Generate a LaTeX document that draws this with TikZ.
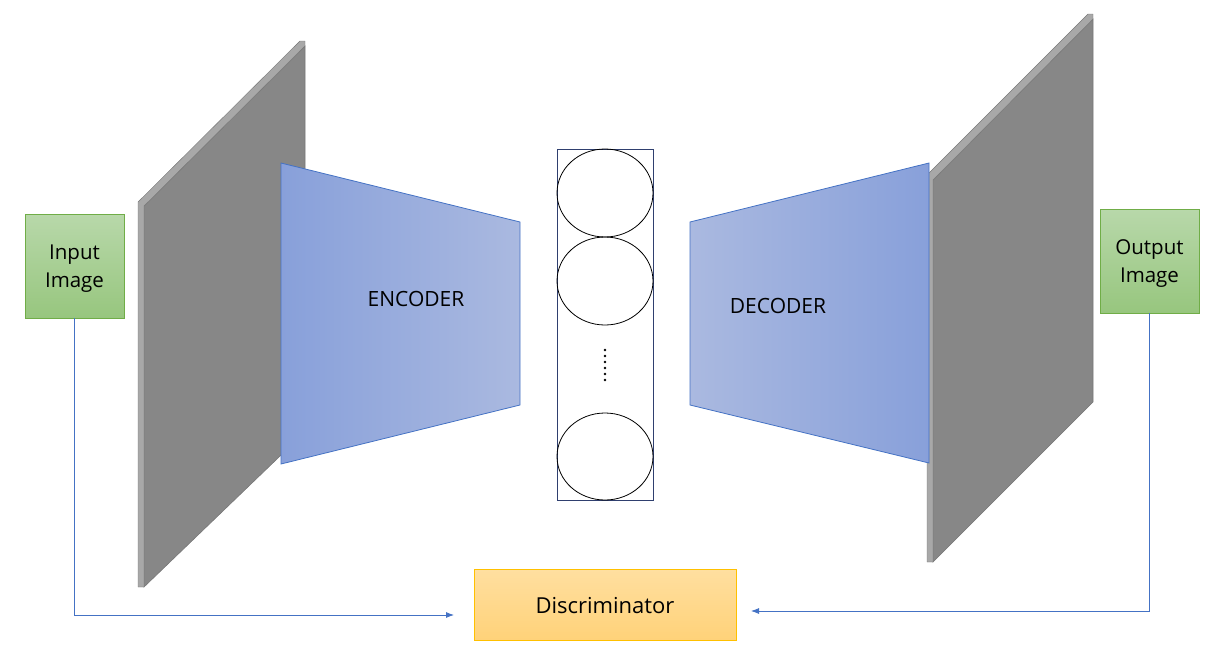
\documentclass[tikz,border=0pt]{standalone}
\usepackage{fontspec}
\setmainfont{Open Sans}
\usetikzlibrary{arrows.meta}
\definecolor{panel}{HTML}{878787}
\definecolor{bevel}{HTML}{A8A8A8}
\definecolor{paneledge}{HTML}{777777}
\definecolor{encdark}{HTML}{88A0DA}
\definecolor{enclight}{HTML}{AAB9E0}
\definecolor{encline}{HTML}{4472C4}
\definecolor{gtop}{HTML}{B8D8AA}
\definecolor{gbot}{HTML}{97C67E}
\definecolor{gline}{HTML}{70AD47}
\definecolor{ytop}{HTML}{FFDFA0}
\definecolor{ybot}{HTML}{FFD279}
\definecolor{yline}{HTML}{FFC000}
\definecolor{latline}{HTML}{2F3F6F}
\definecolor{conn}{HTML}{4472C4}
\tikzset{
  panelface/.style={fill=panel, draw=paneledge, line width=0.6pt},
  panelbevel/.style={fill=bevel, draw=paneledge, line width=0.4pt},
  greenbox/.style={draw=gline, line width=0.8pt, top color=gtop, bottom color=gbot, minimum width=99pt, minimum height=104pt, inner sep=0pt},
  greentext/.style={align=center, inner sep=0pt, font=\fontsize{20.5}{28}\selectfont},
  yellowbox/.style={draw=yline, line width=0.8pt, top color=ytop, bottom color=ybot, minimum width=262pt, minimum height=71pt, inner sep=0pt},
  yellowtext/.style={inner sep=0pt, font=\fontsize{22}{26}\selectfont},
  coder/.style={draw=encline, line width=0.8pt},
  codertext/.style={font=\fontsize{21}{24}\selectfont},
  latent/.style={draw=black, line width=0.8pt},
  connector/.style={draw=conn, line width=0.8pt, -{Latex[length=8pt,width=6pt]}}
}
\begin{document}
\begin{tikzpicture}[x=1pt,y=-1pt]
\useasboundingbox (0,0) rectangle (1212,656);
% left panel
\path[panelface] (144,206) -- (305,46) -- (305,432) -- (144,587) -- cycle;
\path[panelbevel] (138,202) -- (300,41) -- (305,41) -- (305,46) -- (144,206) -- (144,587) -- (138,587) -- cycle;
% right panel
\path[panelface] (933,180) -- (1093,19) -- (1093,402) -- (933,562) -- cycle;
\path[panelbevel] (927,175) -- (1088,14) -- (1093,14) -- (1093,19) -- (933,180) -- (933,562) -- (927,562) -- cycle;
% encoder
\path[coder, left color=encdark, right color=enclight] (281,163) -- (520,222) -- (520,405) -- (281,464) -- cycle;
\node[codertext] (enc) at (416,299) {ENCODER};
% decoder
\path[coder, left color=enclight, right color=encdark] (690,222) -- (929,163) -- (929,463) -- (690,405) -- cycle;
\node[codertext] (dec) at (778,306) {DECODER};
% latent
\node[draw=latline, line width=0.8pt, minimum width=96pt, minimum height=351pt, inner sep=0pt] (lat) at (605,324.5) {};
\draw[latent] (605,193) ellipse [x radius=48, y radius=44];
\draw[latent] (605,281) ellipse [x radius=48, y radius=44];
\draw[latent] (605,456.5) ellipse [x radius=48, y radius=43.5];
\foreach \yy in {350,356,362,368,374,380} \fill (605,\yy) circle (1.3);
% boxes
\node[greenbox] (inp) at (74.5,266) {};
\node[greentext] (inpt) at (74.5,269) {Input\\Image};
\node[greenbox] (outp) at (1149.5,261) {};
\node[greentext] (outpt) at (1149.5,264) {Output\\Image};
\node[yellowbox] (disc) at (605,604.5) {};
\node[yellowtext] (disct) at (605,605.5) {Discriminator};
% connectors
\coordinate (inEnd) at (454,615);
\coordinate (outEnd) at (751,611);
\draw[connector] (inp.south) |- (inEnd);
\draw[connector] (outp.south) |- (outEnd);
\end{tikzpicture}
\end{document}
